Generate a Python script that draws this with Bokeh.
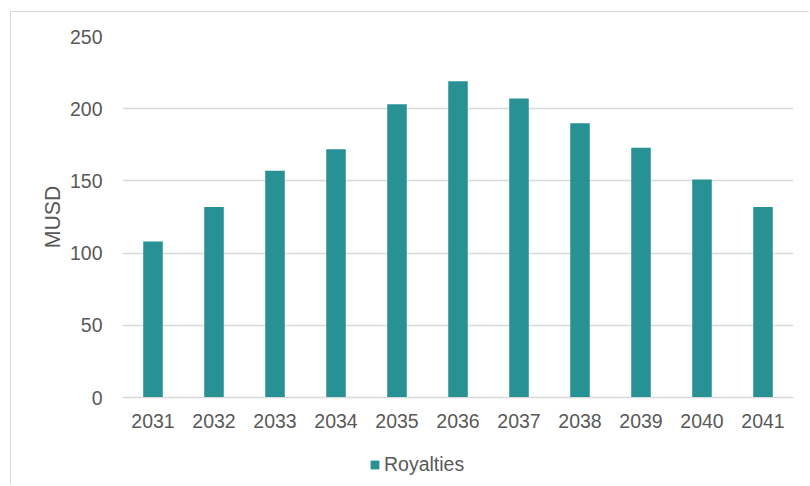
from bokeh.plotting import figure
from bokeh.models import ColumnDataSource, Range1d, FactorRange, Legend, LegendItem, FixedTicker, Title
from bokeh.embed import file_html
from bokeh.resources import INLINE

years = ["2031", "2032", "2033", "2034", "2035", "2036", "2037", "2038", "2039", "2040", "2041"]
royalties = [108, 132, 157, 172, 203, 219, 207, 190, 173, 151, 132]
y_ticks = [0, 50, 100, 150, 200, 250]
series_name = "Royalties"
y_label = "MUSD"

FONT = "Liberation Sans"
TXT = "#595959"
TEAL = "#279193"
GRID = "#d9d9d9"

src = ColumnDataSource(dict(year=years, value=royalties))

# frame spans from the 250 line down to the bottom of the page (legend lives inside it)
y_top = 250
y_bottom = -y_top * 89 / 361

p = figure(width=799, height=474, output_backend="svg", toolbar_location=None,
           x_range=FactorRange(*years, range_padding=0), y_range=Range1d(y_bottom, y_top),
           min_border_left=111, min_border_right=17, min_border_top=24, min_border_bottom=0,
           styles={"margin-left": "10px", "margin-top": "11px",
                   "border-left": "1px solid #d9d9d9", "border-top": "1px solid #d9d9d9"})
p.outline_line_color = None
p.background_fill_color = "white"
p.border_fill_color = "white"

r = p.vbar(x="year", top="value", width=0.32, source=src, fill_color=TEAL, line_color=None)

p.yaxis.ticker = FixedTicker(ticks=y_ticks)
p.ygrid.grid_line_color = GRID
p.ygrid.grid_line_width = 1.5
p.xgrid.grid_line_color = None

for ax in (p.xaxis, p.yaxis):
    ax.major_tick_line_color = None
    ax.minor_tick_line_color = None
    ax.major_label_text_font = FONT
    ax.major_label_text_font_size = "19.5px"
    ax.major_label_text_color = TXT
p.yaxis.axis_line_color = None
p.xaxis.fixed_location = 0
p.xaxis.axis_line_color = GRID
p.xaxis.axis_line_width = 1
p.yaxis.major_label_standoff = 14
p.xaxis.major_label_standoff = 10

ytitle = Title(text=y_label, align="right", offset=149, standoff=4,
               text_font=FONT, text_font_size="21.33px", text_font_style="normal",
               text_color=TXT)
p.add_layout(ytitle, "left")

legend = Legend(items=[LegendItem(label=series_name, renderers=[r])],
                location=(247, 10), orientation="horizontal",
                glyph_width=11, glyph_height=11, label_standoff=4, padding=0, margin=0,
                spacing=0, label_height=19,
                label_text_font=FONT, label_text_font_size="19.5px", label_text_color=TXT,
                border_line_color=None, background_fill_alpha=0)
p.add_layout(legend, "center")

open("out.html", "w").write(file_html(p, INLINE))
